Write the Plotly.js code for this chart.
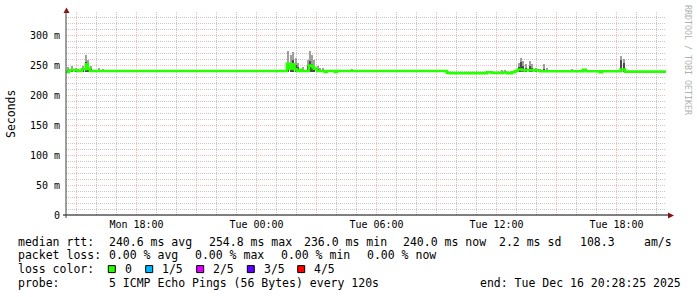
<!DOCTYPE html>
<html>
<head>
<meta charset="utf-8">
<script src="https://cdn.plot.ly/plotly-3.0.1.min.js"></script>
<style>
html,body{margin:0;padding:0;background:#fff;}
#chart{width:697px;height:297px;}
</style>
</head>
<body>
<div id="chart"></div>
<script>
// ---- data (milliseconds) ----
const medianTimes = [
 "2025-12-15 14:28:25","2025-12-15 14:37","2025-12-15 15:04","2025-12-15 15:16","2025-12-15 15:28",
 "2025-12-15 15:34","2025-12-15 15:40","2025-12-16 01:31","2025-12-16 01:39","2025-12-16 01:46",
 "2025-12-16 01:54","2025-12-16 02:01","2025-12-16 02:10","2025-12-16 02:16","2025-12-16 02:37",
 "2025-12-16 02:48","2025-12-16 02:52","2025-12-16 03:01","2025-12-16 03:25","2025-12-16 03:31",
 "2025-12-16 03:55","2025-12-16 04:01","2025-12-16 09:31","2025-12-16 09:40","2025-12-16 11:31",
 "2025-12-16 11:46","2025-12-16 12:19","2025-12-16 12:31","2025-12-16 12:46","2025-12-16 12:55",
 "2025-12-16 13:04","2025-12-16 13:16","2025-12-16 13:49","2025-12-16 14:10","2025-12-16 16:19",
 "2025-12-16 16:28","2025-12-16 17:10","2025-12-16 17:16","2025-12-16 18:12","2025-12-16 18:25",
 "2025-12-16 20:28:25"
];
const medianMs = [
 238.5,241.5,240.0,243.0,251.0,
 244.0,240.0,252.0,244.0,251.0,
 243.0,240.0,242.0,240.0,249.0,
 246.0,244.0,240.0,238.5,240.0,
 238.5,240.0,237.0,236.5,238.0,
 236.8,237.5,236.5,238.0,240.0,
 242.5,241.5,241.0,239.7,242.0,
 239.5,238.0,239.5,242.5,239.0,
 239.0
];
const smokeTimes = [
 "2025-12-15 14:34","2025-12-15 14:46","2025-12-15 14:57","2025-12-15 15:18","2025-12-15 15:28",
 "2025-12-15 15:33","2025-12-15 15:43","2025-12-15 16:07","2025-12-15 16:19",
 "2025-12-16 00:46","2025-12-16 00:58","2025-12-16 01:13",
 "2025-12-16 01:34","2025-12-16 01:42","2025-12-16 01:49","2025-12-16 01:58","2025-12-16 02:04",
 "2025-12-16 02:18","2025-12-16 02:33","2025-12-16 02:40","2025-12-16 02:46","2025-12-16 02:52",
 "2025-12-16 03:03","2025-12-16 03:10","2025-12-16 03:19",
 "2025-12-16 04:46","2025-12-16 07:40",
 "2025-12-16 12:16","2025-12-16 12:25","2025-12-16 13:07","2025-12-16 13:12","2025-12-16 13:19",
 "2025-12-16 13:27","2025-12-16 13:39","2025-12-16 13:46","2025-12-16 13:58","2025-12-16 14:22",
 "2025-12-16 14:31","2025-12-16 15:46",
 "2025-12-16 18:13","2025-12-16 18:21"
];
const smokeLo = [
 237,238,238,238,238,
 238,238,238,238,
 238,238,238,
 238,238,238,238,238,
 238,238,238,238,238,
 238,238,238,
 238,238,
 236,236,238,239,239,
 239,239,239,239,238,
 238,238,
 238,238
];
const smokeCore = [
 242,243,242,244,255,
 252,243,241,241,
 241,240,240,
 254,250,259,250,246,
 242,248,256,252,247,
 243,242,241,
 241,240,
 239,239,247,254.7,248,
 245,248,245,243,243,
 242,241,
 258,253
];
const smokeHi = [
 246,249,245,248,266,
 258,249,245,244,
 242.5,242,241.7,
 274,267.5,271,262,254,
 246,259,274,267.5,259,
 248,245,245,
 243,242.5,
 241,241,253.6,262,256,
 251,256,251,245,251,
 245,243,
 265,260
];
const yTickVals = [0,50,100,150,200,250,300];
const yTickText = ["0","50 m","100 m","150 m","200 m","250 m","300 m"];
const xTickVals = ["2025-12-15 15:00","2025-12-15 18:00","2025-12-15 21:00","2025-12-16 00:00",
 "2025-12-16 03:00","2025-12-16 06:00","2025-12-16 09:00","2025-12-16 12:00","2025-12-16 15:00","2025-12-16 18:00"];
const xTickText = ["","Mon 18:00","","Tue 00:00","","Tue 06:00","","Tue 12:00","","Tue 18:00"];
const lossLabels = ["0","1/5","2/5","3/5","4/5"];
const lossColors = ["#26ff00","#00b8ff","#dd00ff","#5e00ff","#ff0000"];

// ---- geometry helpers (pixel -> paper) ----
const L = 66, R = 31, T = 12, B = 82, Wd = 697, Ht = 297;
const PW = Wd - L - R, PH = Ht - T - B;
const px = x => (x - L) / PW;
const py = y => (Ht - B - y) / PH;

const mono = "DejaVu Sans Mono";
const traces = [
 {type:"bar", x:smokeTimes, base:smokeLo, y:smokeHi.map((h,i)=>h-smokeLo[i]),
  width:360000, marker:{color:"#a0a0a0", line:{width:0}}, hoverinfo:"skip"},
 {type:"bar", x:smokeTimes, base:smokeLo, y:smokeCore.map((h,i)=>h-smokeLo[i]),
  width:360000, marker:{color:"#4a4a4a", line:{width:0}}, hoverinfo:"skip"},
 {type:"scatter", mode:"lines", x:medianTimes, y:medianMs,
  line:{color:"#26ff00", width:2.6, shape:"hv"}, hoverinfo:"skip"}
];

const annotations = [];
function txt(x, y, s, opts) {
 annotations.push(Object.assign({xref:"paper", yref:"paper", x:px(x), y:py(y), text:s,
  showarrow:false, xanchor:"left", yanchor:"middle",
  font:{family:mono, size:11.5, color:"#000"}}, opts||{}));
}
const y1 = 241.5, y2 = 255.3, y3 = 269.1, y4 = 283;
txt(16,y1,"median rtt:"); txt(107,y1,"240.6 ms avg"); txt(207,y1,"254.8 ms max");
txt(302,y1,"236.0 ms min"); txt(401,y1,"240.0 ms now"); txt(497,y1,"2.2 ms sd");
txt(578,y1,"108.3"); txt(642,y1,"am/s");
txt(16,y2,"packet loss:"); txt(107,y2,"0.00 % avg"); txt(193,y2,"0.00 % max");
txt(279,y2,"0.00 % min"); txt(365,y2,"0.00 % now");
txt(16,y3,"loss color:");
const boxX = [108.3,145.7,196.7,247.3,297.7];
const labX = [123.3,160,211,261.7,312.3];
const shapes = [];
lossLabels.forEach((lab,i)=>{
 txt(labX[i],y3,lab);
 shapes.push({type:"rect", xref:"paper", yref:"paper", x0:px(boxX[i]), x1:px(boxX[i]+7),
  y0:py(y3+3.5), y1:py(y3-3.5), fillcolor:lossColors[i], line:{color:"#000", width:1}});
});
txt(16,y4,"probe:"); txt(107,y4,"5 ICMP Echo Pings (56 Bytes) every 120s");
txt(478,y4,"end: Tue Dec 16 20:28:25 2025");
// y-axis title
annotations.push({xref:"paper", yref:"paper", x:px(11), y:py(114), text:"Seconds",
 showarrow:false, textangle:-90, xanchor:"center", yanchor:"middle",
 font:{family:mono, size:11.5, color:"#000"}});
// watermark
annotations.push({xref:"paper", yref:"paper", x:px(688), y:py(60), text:"RRDTOOL / TOBI OETIKER",
 showarrow:false, textangle:90, xanchor:"center", yanchor:"middle",
 font:{family:mono, size:8.3, color:"#b0b0b0"}});

// axis arrows
shapes.push({type:"path", xref:"paper", yref:"paper",
 path:`M ${px(63.5)} ${py(13)} L ${px(69.5)} ${py(13)} L ${px(66.5)} ${py(7.5)} Z`,
 fillcolor:"#8b1010", line:{width:0}});
shapes.push({type:"path", xref:"paper", yref:"paper",
 path:`M ${px(668)} ${py(212.5)} L ${px(668)} ${py(218.5)} L ${px(674)} ${py(215.5)} Z`,
 fillcolor:"#8b1010", line:{width:0}});
// axis line extensions
shapes.push({type:"line", xref:"paper", yref:"paper", x0:px(63), x1:px(668), y0:0, y1:0,
 line:{color:"#000", width:1}});
shapes.push({type:"line", xref:"paper", yref:"paper", x0:0, x1:0, y0:py(218), y1:py(10),
 line:{color:"#404040", width:1}});

const layout = {
 width:Wd, height:Ht,
 margin:{l:L, r:R, t:T, b:B, pad:0},
 paper_bgcolor:"#fff", plot_bgcolor:"#fff",
 showlegend:false, barmode:"overlay", bargap:0,
 xaxis:{type:"date", range:["2025-12-15 14:28:25","2025-12-16 20:28:25"],
  tickmode:"array", tickvals:xTickVals, ticktext:xTickText,
  showgrid:true, gridcolor:"#f5bcbc", griddash:"1px,1px", gridwidth:1,
  minor:{dtick:3600000, showgrid:true, gridcolor:"#c8c8c8", griddash:"1px,1px", gridwidth:1},
  showline:false, zeroline:false, ticks:"", automargin:false,
  tickfont:{family:mono, size:10, color:"#000"}, ticklabelstandoff:2},
 yaxis:{range:[0, PH/0.6], tickmode:"array", tickvals:yTickVals, ticktext:yTickText,
  showgrid:true, gridcolor:"#f5bcbc", griddash:"1px,1px", gridwidth:1,
  minor:{dtick:10, showgrid:true, gridcolor:"#c8c8c8", griddash:"1px,1px", gridwidth:1},
  showline:false, zeroline:false, ticks:"", automargin:false,
  tickfont:{family:mono, size:10, color:"#000"}, ticklabelstandoff:5},
 annotations:annotations, shapes:shapes
};
Plotly.newPlot("chart", traces, layout, {staticPlot:true, displayModeBar:false});
</script>
</body>
</html>
